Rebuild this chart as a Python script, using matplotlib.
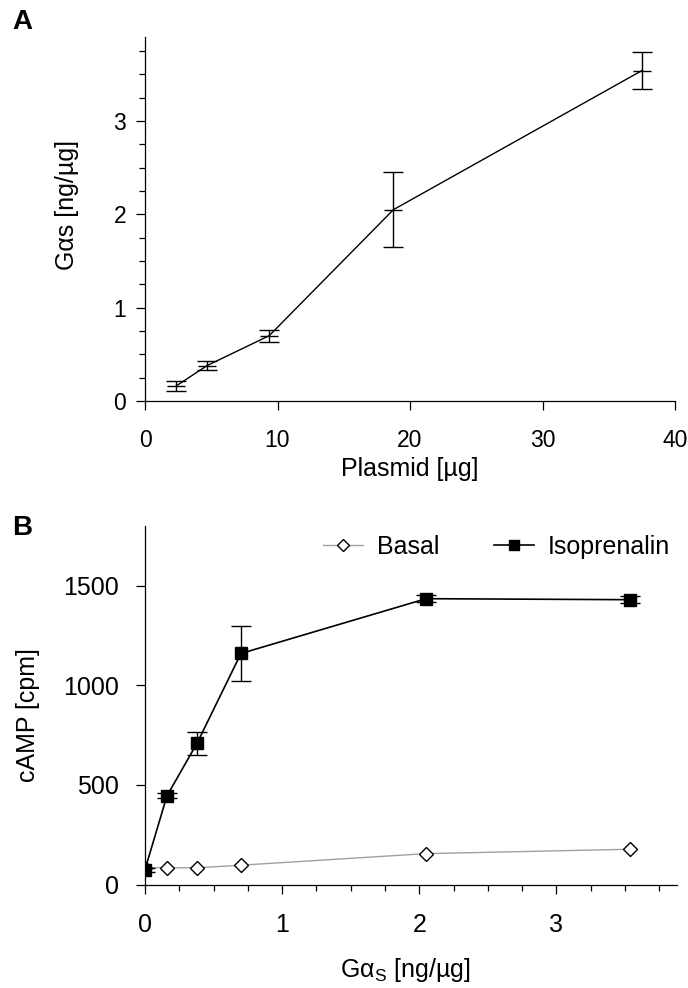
import numpy as np
import matplotlib
matplotlib.use("Agg")
import matplotlib.pyplot as plt
from matplotlib.ticker import MultipleLocator

plt.rcParams['font.family'] = ['Liberation Sans', 'DejaVu Sans']
plt.rcParams['mathtext.fontset'] = 'custom'
plt.rcParams['mathtext.rm'] = 'Liberation Sans'
plt.rcParams['mathtext.it'] = 'Liberation Sans:italic'

# panel A: Gas expression vs plasmid amount
plasmid = [2.34, 4.69, 9.375, 18.75, 37.5]
gas = [0.16, 0.38, 0.70, 2.05, 3.54]
gas_err = [0.05, 0.05, 0.065, 0.40, 0.20]

# panel B: cAMP vs Gas
gas_b = [0.0, 0.16, 0.38, 0.70, 2.05, 3.54]
basal = [85, 84, 84, 97, 155, 177]
iso = [75, 445, 710, 1160, 1435, 1430]
iso_err = [10, 12, 58, 140, 18, 18]

fig = plt.figure(figsize=(6.88, 9.88), dpi=100)

axA = fig.add_axes([145/688, 1 - 401/988, 530/688, 364/988])
axB = fig.add_axes([145/688, 1 - 884.5/988, 532/688, 358.5/988])

for ax in (axA, axB):
    ax.spines['top'].set_visible(False)
    ax.spines['right'].set_visible(False)
    ax.spines['left'].set_linewidth(0.9)
    ax.spines['bottom'].set_linewidth(0.9)
    ax.tick_params(which='major', direction='out', length=6.5, width=0.9)
    ax.tick_params(which='minor', direction='out', length=4.5, width=0.9)

# ---- A
axA.errorbar(plasmid, gas, yerr=gas_err, color='black', lw=1.0, marker='_',
             markersize=13, mew=1.0, capsize=7, capthick=1.0, elinewidth=1.0)
axA.set_xlim(0, 40)
axA.set_ylim(0, 3.9)
axA.xaxis.set_major_locator(MultipleLocator(10))
axA.yaxis.set_major_locator(MultipleLocator(1))
axA.yaxis.set_minor_locator(MultipleLocator(0.25))
axA.tick_params(labelsize=16.5)
axA.tick_params(axis='x', pad=14)
axA.tick_params(axis='y', pad=7)
axA.set_xlabel('Plasmid [µg]', fontsize=18, va='center')
axA.xaxis.set_label_coords(0.5, (401 - 469) / 364)
axA.set_ylabel('Gαs [ng/µg]', fontsize=18, va='center')
axA.yaxis.set_label_coords((67 - 145) / 530, (401 - 205) / 364)

# ---- B
axB.errorbar(gas_b, iso, yerr=iso_err, fmt='none', ecolor='black',
             capsize=7, capthick=1.0, elinewidth=1.0, zorder=3)
lb, = axB.plot(gas_b, basal, color='#a0a0a0', lw=1.0, marker='D',
               markersize=7, mfc='white', mec='black', mew=1.0,
               label='Basal', zorder=2)
li, = axB.plot(gas_b, iso, color='black', lw=1.2, marker='s',
               markersize=9, mfc='black', mec='black',
               label='Isoprenalin', zorder=4)
axB.set_xlim(0, 3.88)
axB.set_ylim(0, 1800)
axB.xaxis.set_major_locator(MultipleLocator(1))
axB.xaxis.set_minor_locator(MultipleLocator(0.25))
axB.yaxis.set_major_locator(MultipleLocator(500))
axB.tick_params(labelsize=18)
axB.tick_params(axis='x', pad=14)
axB.tick_params(axis='y', pad=12)
axB.set_ylabel('cAMP [cpm]', fontsize=18, va='center')
axB.yaxis.set_label_coords((28 - 145) / 532, (884.5 - 715) / 358.5)
axB.set_xlabel(r'Gα$\mathregular{_S}$ [ng/µg]', fontsize=18, va='baseline')
axB.xaxis.set_label_coords(0.5 - 6 / 532, (884.5 - 977) / 358.5)

leg = axB.legend(handles=[lb, li], loc='center left',
                 bbox_to_anchor=((323 - 145) / 532, (884.5 - 547) / 358.5),
                 ncol=2, frameon=False, fontsize=18, handlelength=1.6,
                 handletextpad=0.55, columnspacing=2.2, borderpad=0,
                 borderaxespad=0, markerscale=0.85)

fig.text(12/688, 1 - 22/988, 'A', fontsize=20, fontweight='bold', va='center')
fig.text(12/688, 1 - 528/988, 'B', fontsize=20, fontweight='bold', va='center')

fig.savefig('out.png', dpi=100)
